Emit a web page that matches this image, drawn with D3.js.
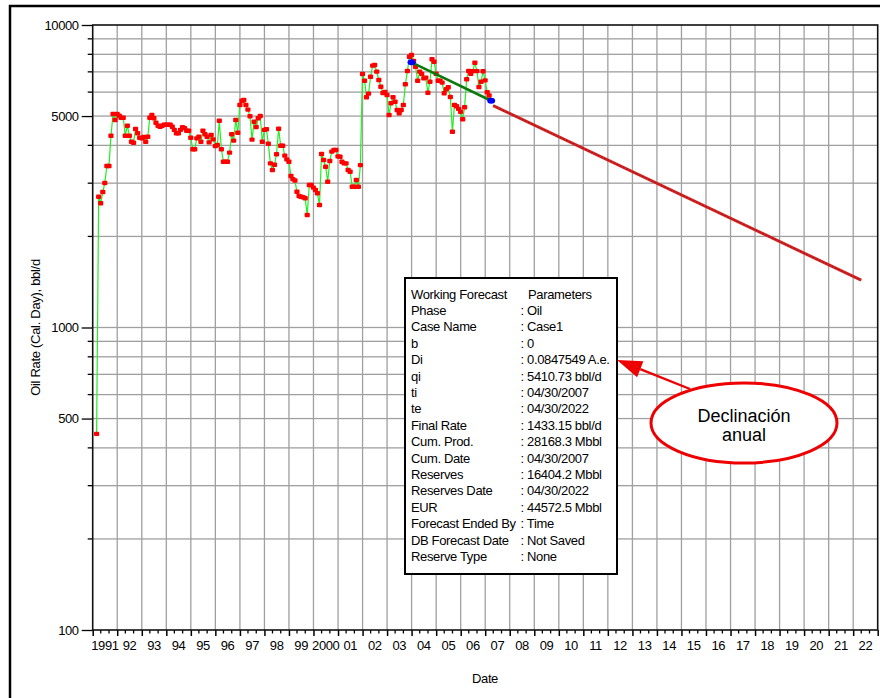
<!DOCTYPE html>
<html>
<head>
<meta charset="utf-8">
<script src="https://cdn.jsdelivr.net/npm/d3@7"></script>
<style>
  html, body { margin: 0; padding: 0; background: #fff; }
  svg { display: block; }
</style>
</head>
<body>
<svg id="chart" width="880" height="698"></svg>
<script>
// Monthly oil rate history (bbl/d), month-end values starting February 1991
const historyStart = { year: 1991, month: 1 };
const oilRate = [
  445, 2706, 2574, 2805, 3003, 3418, 3418, 4306, 5079, 4853, 5079,            // 1991 Feb-Dec
  5014, 4938, 4938, 4306, 4645, 4306, 4113, 4082, 4530, 4385, 4240, 4220,     // 1992
  4263, 4113, 4272, 4938, 5040, 4915, 4750, 4645, 4611, 4645, 4680, 4680,     // 1993
  4680, 4680, 4611, 4500, 4385, 4385, 4500, 4590, 4560, 4470, 4470, 4240,     // 1994
  3883, 3883, 4220, 4272, 4113, 4473, 4355, 4272, 4094, 4329, 4188, 3978,     // 1995
  4011, 4826, 3883, 3532, 3532, 3532, 3784, 4355, 4147, 4853, 4404, 5440,     // 1996
  5620, 5650, 5440, 5250, 4990, 4180, 4789, 4600, 4915, 5000, 4113, 4500,     // 1997
  4520, 4050, 3489, 3316, 3450, 3740, 4540, 3990, 3990, 3700, 3597, 3532,     // 1998
  3168, 3093, 3061, 2810, 2720, 2706, 2695, 2674, 2355, 2959, 2959, 2899,     // 1999
  2848, 2777, 2541, 3747, 3579, 3401, 3034, 3552, 3813, 3862, 3862, 3680,     // 2000
  3670, 3532, 3489, 3489, 3316, 3273, 2920, 2920, 3073, 2920, 3443, 6887,     // 2001
  6543, 5767, 5930, 6744, 7338, 7377, 7012, 6580, 6250, 5960, 6010, 5870,     // 2002
  5040, 5510, 5767, 5576, 5236, 5105, 5236, 5440, 6368, 7049, 7856, 7960,     // 2003
  7600, 7279, 6543, 7012, 6887, 6663, 6700, 5974, 6494, 7702, 7562, 6900,     // 2004
  6543, 6543, 6450, 5945, 6130, 6223, 5780, 4439, 5440, 5390, 5280, 5168,     // 2005
  4880, 5345, 6616, 7049, 6900, 7040, 7504, 7040, 6240, 6494, 7030, 6560,     // 2006
  6000, 5850, 5620                                                            // 2007 Jan-Mar
];

// Decline fit over the history window (endpoints)
const fitDates = ["2003-12-31", "2007-03-31"];
const fitRates = [7527, 5620];

// Working forecast parameters
const forecastDates = ["2007-04-30", "2022-04-30"];   // ti, te
const forecastRates = [5410.73, 1433.15];            // qi, final rate

// Axis ticks
const yMajorTicks = [100, 500, 1000, 5000, 10000];
const yGridValues = [200, 300, 400, 500, 600, 700, 800, 900, 1000,
                     2000, 3000, 4000, 5000, 6000, 7000, 8000, 9000];
const yearLabels = ["1991", "92", "93", "94", "95", "96", "97", "98", "99", "2000",
                    "01", "02", "03", "04", "05", "06", "07", "08", "09", "10",
                    "11", "12", "13", "14", "15", "16", "17", "18", "19", "20", "21", "22"];

// Parameter box rows
const paramNames = ["Working Forecast", "Phase", "Case Name", "b", "Di", "qi", "ti", "te",
  "Final Rate", "Cum. Prod.", "Cum. Date", "Reserves", "Reserves Date", "EUR",
  "Forecast Ended By", "DB Forecast Date", "Reserve Type"];
const paramValues = ["Parameters", ": Oil", ": Case1", ": 0", ": 0.0847549 A.e.", ": 5410.73 bbl/d",
  ": 04/30/2007", ": 04/30/2022", ": 1433.15 bbl/d", ": 28168.3 Mbbl", ": 04/30/2007",
  ": 16404.2 Mbbl", ": 04/30/2022", ": 44572.5 Mbbl", ": Time", ": Not Saved", ": None"];

const calloutLines = ["Declinación", "anual"];

// ---------------------------------------------------------------
const FONT = "Liberation Sans, Arial, sans-serif";
const svg = d3.select("#chart");
const parse = d3.timeParse("%Y-%m-%d");

const plot = { left: 92.7, right: 877.7, top: 25, bottom: 630 };

const x = d3.scaleTime()
  .domain([new Date(1991, 0, 1), new Date(2023, 0, 1)])
  .range([plot.left, plot.right]);
const y = d3.scaleLog()
  .domain([100, 10000])
  .range([plot.bottom, plot.top]);

// outer frame (top and left edges are the visible ones)
svg.append("path")
  .attr("d", "M10,698V6H880")
  .attr("fill", "none").attr("stroke", "#000").attr("stroke-width", 2.5);

// Y axis (log)
const yAxis = d3.axisLeft(y)
  .tickValues(yMajorTicks)
  .tickFormat(d3.format("d"))
  .tickSize(11)
  .tickPadding(3);
const gy = svg.append("g").attr("transform", `translate(${plot.left},0)`).call(yAxis);
gy.select(".domain").remove();
gy.selectAll(".tick line").attr("stroke", "#000").attr("stroke-width", 1.3);
gy.selectAll(".tick text")
  .attr("font-size", 13).attr("letter-spacing", -0.4)
  .attr("font-family", FONT).attr("fill", "#000");
// minor y ticks
svg.append("g").selectAll("line").data(yGridValues.filter(v => !yMajorTicks.includes(v))).join("line")
  .attr("x1", plot.left - 5).attr("x2", plot.left)
  .attr("y1", d => y(d)).attr("y2", d => y(d))
  .attr("stroke", "#000").attr("stroke-width", 1.3);

// X axis: year ticks with labels centred in each year
const xAxis = d3.axisBottom(x)
  .tickValues(d3.range(1991, 2024).map(yr => new Date(yr, 0, 1)))
  .tickFormat("")
  .tickSize(6);
const gx = svg.append("g").attr("transform", `translate(0,${plot.bottom})`).call(xAxis);
gx.select(".domain").remove();
gx.selectAll(".tick line").attr("stroke", "#000").attr("stroke-width", 1.5);
// minor x ticks every four months
const minorX = [];
d3.range(1991, 2023).forEach(yr => { minorX.push(new Date(yr, 4, 1)); minorX.push(new Date(yr, 8, 1)); });
svg.append("g").selectAll("line").data(minorX).join("line")
  .attr("x1", d => x(d)).attr("x2", d => x(d))
  .attr("y1", plot.bottom).attr("y2", plot.bottom + 3.5)
  .attr("stroke", "#000").attr("stroke-width", 1.3);
svg.append("g").selectAll("text").data(yearLabels).join("text")
  .attr("x", (d, i) => x(new Date(1991 + i, 6, 2)))
  .attr("y", plot.bottom + 20)
  .attr("text-anchor", "middle")
  .attr("font-family", FONT).attr("font-size", 13).attr("letter-spacing", -0.4)
  .attr("fill", "#000")
  .text(d => d);

// axis titles
svg.append("text")
  .attr("transform", `translate(40,${(plot.top + plot.bottom) / 2}) rotate(-90)`)
  .attr("text-anchor", "middle")
  .attr("font-family", FONT).attr("font-size", 13).attr("letter-spacing", -0.3).attr("fill", "#000")
  .text("Oil Rate (Cal. Day), bbl/d");
svg.append("text")
  .attr("x", 485).attr("y", 683)
  .attr("text-anchor", "middle")
  .attr("font-family", FONT).attr("font-size", 13).attr("letter-spacing", -0.4).attr("fill", "#000")
  .text("Date");

// grid: thin filled bars, one per year and one per log sub-division
const yearStarts = d3.range(1992, 2023).map(yr => new Date(yr, 0, 1));
const gridG = svg.append("g").attr("fill", "#a0a0a0");
gridG.selectAll("rect.gv").data(yearStarts).enter().append("rect")
  .attr("class", "gv")
  .attr("x", d => x(d) - 0.65).attr("y", plot.top)
  .attr("width", 1.3).attr("height", plot.bottom - plot.top);
gridG.selectAll("rect.gh").data(yGridValues).enter().append("rect")
  .attr("class", "gh")
  .attr("x", plot.left).attr("y", d => y(d) - 0.65)
  .attr("width", plot.right - plot.left).attr("height", 1.3);

// plot frame
svg.append("rect")
  .attr("x", plot.left).attr("y", plot.top)
  .attr("width", plot.right - plot.left).attr("height", plot.bottom - plot.top)
  .attr("fill", "none").attr("stroke", "#111").attr("stroke-width", 1.6);

// history series
const historyPts = oilRate.map((v, i) => ({
  date: new Date(historyStart.year, historyStart.month + i + 1, 0),
  value: v
}));
const rateLine = d3.line().x(d => x(d.date)).y(d => y(d.value));
svg.append("path").datum(historyPts)
  .attr("d", rateLine).attr("fill", "none")
  .attr("stroke", "#22ee22").attr("stroke-width", 1.2);
svg.append("g").selectAll("rect").data(historyPts).join("rect")
  .attr("x", d => x(d.date) - 2.6).attr("y", d => y(d.value) - 2.2)
  .attr("width", 5.2).attr("height", 4.4).attr("rx", 1)
  .attr("fill", "#ff0000");

// forecast
const forecastPts = forecastDates.map((d, i) => ({ date: parse(d), value: forecastRates[i] }));
svg.append("path").datum(forecastPts)
  .attr("d", rateLine).attr("fill", "none")
  .attr("stroke", "#d42626").attr("stroke-width", 3);
svg.append("path").datum(forecastPts)
  .attr("d", rateLine).attr("fill", "none")
  .attr("stroke", "#b01414").attr("stroke-width", 1.2)
  .attr("stroke-dasharray", "2 1.5");

// decline fit
const fitPts = fitDates.map((d, i) => ({ date: parse(d), value: fitRates[i] }));
svg.append("path").datum(fitPts)
  .attr("d", rateLine).attr("fill", "none")
  .attr("stroke", "#0a7a0a").attr("stroke-width", 2.6);
svg.append("g").selectAll("ellipse").data(fitPts).join("ellipse")
  .attr("cx", d => x(d.date)).attr("cy", d => y(d.value))
  .attr("rx", 4).attr("ry", 3)
  .attr("fill", "#0000ff");

// parameters box
const box = { x: 405, y: 278, w: 212, h: 296 };
svg.append("rect")
  .attr("x", box.x).attr("y", box.y).attr("width", box.w).attr("height", box.h)
  .attr("fill", "#fff").attr("stroke", "#000").attr("stroke-width", 2);
const rows = svg.append("g")
  .attr("font-family", FONT).attr("font-size", 13).attr("letter-spacing", -0.35).attr("fill", "#000");
rows.selectAll("text.name").data(paramNames).join("text")
  .attr("x", 411).attr("y", (d, i) => 298.5 + i * 16.4)
  .text(d => d);
rows.selectAll("text.val").data(paramValues).join("text")
  .attr("x", (d, i) => i === 0 ? 528 : 520.5).attr("y", (d, i) => 298.5 + i * 16.4)
  .text(d => d);

// callout
const ell = { cx: 744, cy: 423, rx: 93, ry: 40 };
const tip = [617, 360], tail = [690, 389];
const ang = Math.atan2(tail[1] - tip[1], tail[0] - tip[0]);
const headLen = 25, headHalf = 8.5;
const bx = tip[0] + headLen * Math.cos(ang), by = tip[1] + headLen * Math.sin(ang);
svg.append("line")
  .attr("x1", bx).attr("y1", by).attr("x2", tail[0]).attr("y2", tail[1])
  .attr("stroke", "#ee0000").attr("stroke-width", 2.4);
svg.append("path")
  .attr("d", `M${tip[0]},${tip[1]} L${bx - headHalf * Math.sin(ang)},${by + headHalf * Math.cos(ang)} L${bx + headHalf * Math.sin(ang)},${by - headHalf * Math.cos(ang)} Z`)
  .attr("fill", "#ee0000");
svg.append("ellipse")
  .attr("cx", ell.cx).attr("cy", ell.cy).attr("rx", ell.rx).attr("ry", ell.ry)
  .attr("fill", "#fff").attr("stroke", "#ee0000").attr("stroke-width", 3);
svg.append("g").selectAll("text").data(calloutLines).join("text")
  .attr("x", ell.cx).attr("y", (d, i) => 421.5 + i * 19)
  .attr("text-anchor", "middle")
  .attr("font-family", FONT).attr("font-size", 18).attr("fill", "#000")
  .text(d => d);
</script>
</body>
</html>
